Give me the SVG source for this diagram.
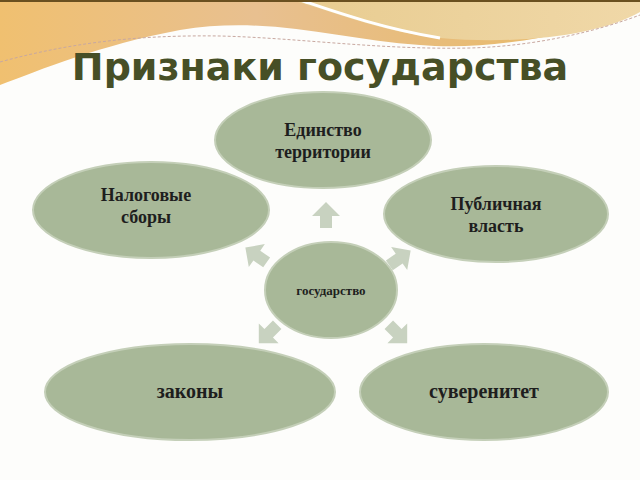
<svg xmlns="http://www.w3.org/2000/svg" width="640" height="480" viewBox="0 0 640 480">
<defs>
<linearGradient id="w1" x1="0" y1="0" x2="1" y2="0"><stop offset="0" stop-color="#f0c070"/><stop offset="0.4" stop-color="#e8c090"/><stop offset="1" stop-color="#e8b860"/></linearGradient>
<linearGradient id="w2" x1="0" y1="0" x2="1" y2="0"><stop offset="0" stop-color="#e8cc90"/><stop offset="1" stop-color="#f0d8a8"/></linearGradient>
<path id="arr" d="M0,-13 L14,1 L6,1 L6,13 L-6,13 L-6,1 L-14,1 Z"/>
</defs>
<style>
.n{fill:#a8b898;stroke:#c4cfb8;stroke-width:2}
.a{fill:#c8d2c0}
.t{font-family:"Liberation Serif",serif;font-weight:bold;fill:#1e1e1e;text-anchor:middle}
</style>
<rect width="640" height="480" fill="#fdfdfb"/>
<path d="M0,0 H640 V10 C560,40 480,50 420,45 C340,40 270,15 180,30 C100,45 40,70 0,85 Z" fill="url(#w1)"/>
<path d="M290,0 H640 V12 C600,35 520,45 440,38 C380,32 330,10 290,0 Z" fill="url(#w2)"/>
<path d="M300,0 C330,10 380,28 440,38" stroke="#ffffff" stroke-width="3" fill="none"/>
<path d="M0,62 C80,40 150,35 220,36 C300,38 380,50 470,48 C540,46 600,30 640,15" stroke="#c8a8a0" stroke-width="1" stroke-dasharray="3,2" fill="none"/>
<rect width="640" height="2" fill="#6a5020"/>
<text x="320" y="80" font-family="DejaVu Sans" font-weight="bold" font-size="38" fill="#474f26" text-anchor="middle">Признаки государства</text>
<g id="connectors">
<use href="#arr" class="a" transform="translate(326,215)"/>
<use href="#arr" class="a" transform="translate(256,255) rotate(-55)"/>
<use href="#arr" class="a" transform="translate(400,258) rotate(55)"/>
<use href="#arr" class="a" transform="translate(268,334) rotate(-135)"/>
<use href="#arr" class="a" transform="translate(398,334) rotate(135)"/>
</g>
<g id="n-top"><ellipse class="n" cx="323" cy="140" rx="108" ry="48"/><text class="t" font-size="18" x="323" y="136">Единство</text><text class="t" font-size="18" x="323" y="158">территории</text></g>
<g id="n-left"><ellipse class="n" cx="151" cy="210" rx="118" ry="48"/><text class="t" font-size="18" x="146" y="201">Налоговые</text><text class="t" font-size="18" x="146" y="223">сборы</text></g>
<g id="n-right"><ellipse class="n" cx="496" cy="214" rx="112" ry="48"/><text class="t" font-size="18" x="496" y="210">Публичная</text><text class="t" font-size="18" x="496" y="232">власть</text></g>
<g id="n-center"><ellipse class="n" cx="331" cy="290" rx="66" ry="48"/><text class="t" font-size="13" x="331" y="295">государство</text></g>
<g id="n-bl"><ellipse class="n" cx="190" cy="392" rx="145" ry="48"/><text class="t" font-size="20" x="190" y="398">законы</text></g>
<g id="n-br"><ellipse class="n" cx="484" cy="392" rx="124" ry="48"/><text class="t" font-size="20" x="484" y="398">суверенитет</text></g>
</svg>
